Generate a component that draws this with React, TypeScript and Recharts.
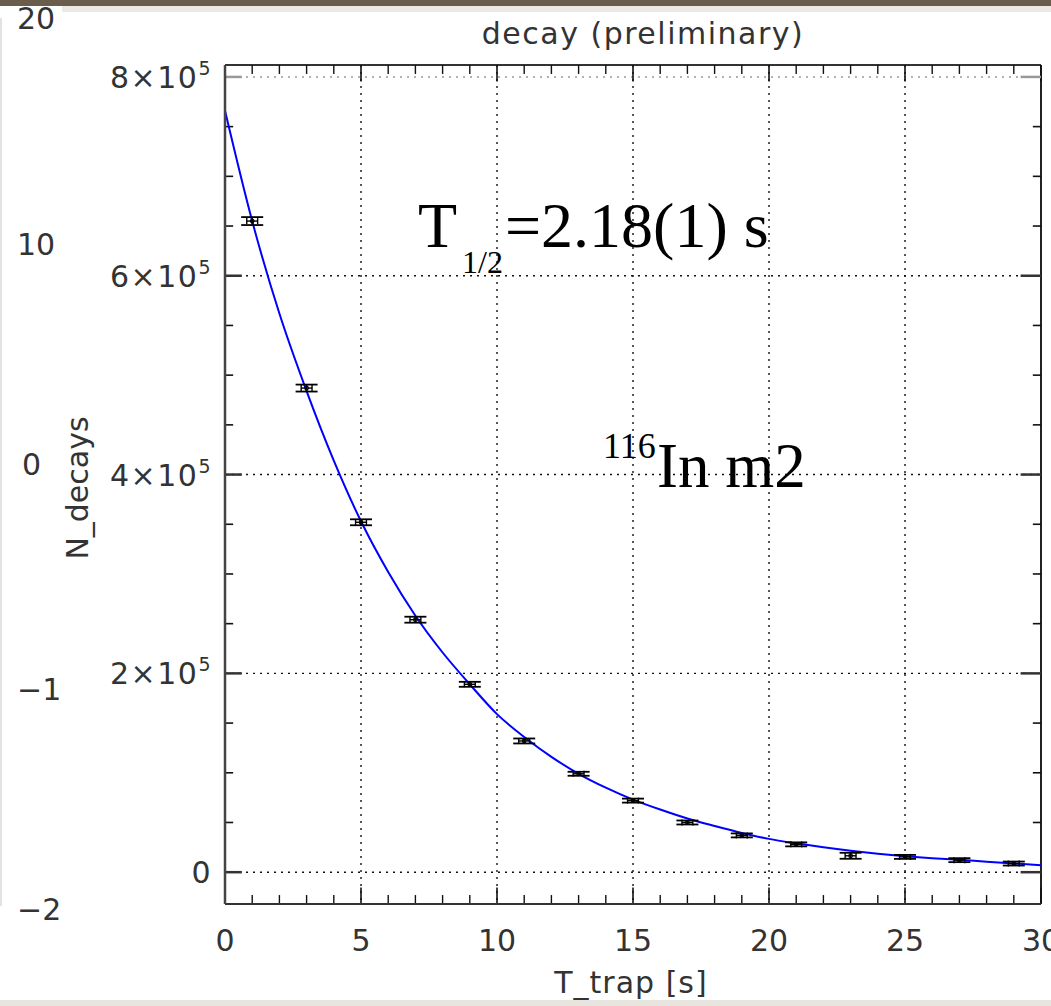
import React from "react";
import {
  ComposedChart,
  Line,
  Scatter,
  XAxis,
  YAxis,
  CartesianGrid,
  ReferenceLine,
  ErrorBar,
} from "recharts";

// fitted curve
const curveT = [0, 1, 2, 3, 4, 5, 6, 7, 8, 9, 10, 11, 12, 13, 14, 15, 16, 17, 18, 19, 20, 21, 22, 23, 24, 25, 26, 27, 28, 29, 30];
const curveN = [
  766000, 655000, 562000, 484000, 414000, 353000, 302000, 258000, 221000, 189000,
  159000, 136000, 116000, 99000, 85000, 73000, 63000, 54000, 46500, 39500,
  33500, 29000, 25000, 21500, 18500, 16000, 14000, 12500, 10500, 8800, 7000,
];

// measured points
const pointT = [1, 3, 5, 7, 9, 11, 13, 15, 17, 19, 21, 23, 25, 27, 29];
const pointN = [655000, 487000, 352000, 254000, 189000, 132000, 99000, 72000, 50000, 37000, 28000, 16500, 15400, 12100, 8700];
const pointErrN = [4000, 3500, 3000, 3000, 2500, 2500, 2000, 2000, 2000, 2000, 2000, 3000, 2000, 2000, 2000];
const pointErrT = [0.2, 0.2, 0.2, 0.2, 0.2, 0.2, 0.2, 0.2, 0.2, 0.2, 0.2, 0.2, 0.2, 0.2, 0.2];

const xMajorTicks = [0, 5, 10, 15, 20, 25, 30];
const xMinorTicks = [1, 2, 3, 4, 6, 7, 8, 9, 11, 12, 13, 14, 16, 17, 18, 19, 21, 22, 23, 24, 26, 27, 28, 29];
const yMajorTicks = [0, 200000, 400000, 600000, 800000];
const yMinorTicks = [50000, 100000, 150000, 250000, 300000, 350000, 450000, 500000, 550000, 650000, 700000, 750000];
const yTickMantissa = ["0", "2", "4", "6", "8"];
const yTickExponent = ["", "5", "5", "5", "5"];

const strayLabels = ["20", "10", "0", "\u22121", "\u22122"];

const X_MIN = 0;
const X_MAX = 30;
const Y_MIN = -32000;
const Y_MAX = 812000;

const curveData = curveT.map((t, i) => ({ t, n: curveN[i] }));
const pointData = pointT.map((t, i) => ({ t, n: pointN[i], dn: pointErrN[i], dt: pointErrT[i] }));

const SANS = "'DejaVu Sans', sans-serif";
const SERIF = "'Liberation Serif', 'Times New Roman', serif";
const INK = "#333";

const XTick = (props: any) => {
  const { x, y, payload } = props;
  return (
    <text x={x} y={y + 47} textAnchor="middle" fontFamily={SANS} fontSize={30} fill={INK}>
      {payload.value}
    </text>
  );
};

const YTick = (props: any) => {
  const { x, y, payload } = props;
  const i = yMajorTicks.indexOf(payload.value);
  const exp = yTickExponent[i];
  return (
    <text x={x} y={y + 11} textAnchor="end" fontFamily={SANS} fontSize={30} letterSpacing={1.5} fill={INK}>
      {yTickMantissa[i]}
      {exp ? "\u00d710" : ""}
      {exp ? (
        <tspan dy={-13} fontSize={19}>
          {exp}
        </tspan>
      ) : null}
    </text>
  );
};

const tickStroke = "#111";

export default function App() {
  return (
    <div style={{ position: "absolute", left: 0, top: 0, width: 1051, height: 1006, background: "#fff" }}>
      <ComposedChart
        width={1051}
        height={1006}
        margin={{ top: 65, right: 10, bottom: 62, left: 125 }}
      >
        <CartesianGrid
          stroke="#111"
          strokeWidth={1.4}
          strokeDasharray="2 5"
          horizontalValues={[0, 200000, 400000, 600000]}
          verticalValues={[5, 10, 15, 20, 25]}
        />
        <XAxis
          type="number"
          dataKey="t"
          domain={[X_MIN, X_MAX]}
          allowDataOverflow
          ticks={xMajorTicks}
          interval={0}
          height={40}
          tickSize={0}
          tickMargin={0}
          tickLine={false}
          axisLine={{ stroke: "#333", strokeWidth: 2 }}
          tick={<XTick />}
        />
        <YAxis
          type="number"
          domain={[Y_MIN, Y_MAX]}
          allowDataOverflow
          ticks={yMajorTicks}
          interval={0}
          width={100}
          tickSize={0}
          tickMargin={13}
          tickLine={false}
          axisLine={{ stroke: "#444", strokeWidth: 2.5 }}
          tick={<YTick />}
        />
        <ReferenceLine y={800000} stroke="#999" strokeWidth={1.4} strokeDasharray="2 5" />
        <ReferenceLine y={Y_MAX} stroke="#333" strokeWidth={2} />
        <ReferenceLine x={X_MAX} stroke="#222" strokeWidth={2} />

        {xMajorTicks.map((t) => (
          <ReferenceLine key={`bM${t}`} segment={[{ x: t, y: Y_MIN }, { x: t, y: Y_MIN + 16500 }]} stroke={tickStroke} strokeWidth={1.6} />
        ))}
        {xMinorTicks.map((t) => (
          <ReferenceLine key={`bm${t}`} segment={[{ x: t, y: Y_MIN }, { x: t, y: Y_MIN + 9000 }]} stroke={tickStroke} strokeWidth={1.4} />
        ))}
        {xMajorTicks.map((t) => (
          <ReferenceLine key={`tM${t}`} segment={[{ x: t, y: Y_MAX }, { x: t, y: Y_MAX - 16500 }]} stroke={tickStroke} strokeWidth={1.6} />
        ))}
        {xMinorTicks.map((t) => (
          <ReferenceLine key={`tm${t}`} segment={[{ x: t, y: Y_MAX }, { x: t, y: Y_MAX - 9000 }]} stroke={tickStroke} strokeWidth={1.4} />
        ))}
        {yMajorTicks.map((v) => (
          <ReferenceLine key={`lM${v}`} segment={[{ x: X_MIN, y: v }, { x: X_MIN + 0.62, y: v }]} stroke={v === 800000 ? "#999" : "#333"} strokeWidth={2.5} />
        ))}
        {yMinorTicks.map((v) => (
          <ReferenceLine key={`lm${v}`} segment={[{ x: X_MIN, y: v }, { x: X_MIN + 0.3, y: v }]} stroke={tickStroke} strokeWidth={1.6} />
        ))}
        {yMajorTicks.map((v) => (
          <ReferenceLine key={`rM${v}`} segment={[{ x: X_MAX, y: v }, { x: X_MAX - 0.75, y: v }]} stroke={v === 800000 ? "#999" : "#333"} strokeWidth={2.5} />
        ))}
        {yMinorTicks.map((v) => (
          <ReferenceLine key={`rm${v}`} segment={[{ x: X_MAX, y: v }, { x: X_MAX - 0.3, y: v }]} stroke={tickStroke} strokeWidth={1.6} />
        ))}

        <Line
          data={curveData}
          dataKey="n"
          type="monotone"
          stroke="#0000ff"
          strokeWidth={2}
          dot={false}
          activeDot={false}
          isAnimationActive={false}
        />
        <Scatter
          data={pointData}
          dataKey="n"
          fill="#000"
          isAnimationActive={false}
          shape={(p: any) => (
            <circle cx={p.cx} cy={p.cy} r={1.8} fill="none" stroke="#000" strokeWidth={1.2} />
          )}
        >
          <ErrorBar dataKey="dn" direction="y" width={11} stroke="#000" strokeWidth={1.8} />
          <ErrorBar dataKey="dt" direction="x" width={3} stroke="#000" strokeWidth={1.4} />
        </Scatter>
      </ComposedChart>

      <svg
        width={1051}
        height={1006}
        style={{ position: "absolute", left: 0, top: 0, pointerEvents: "none" }}
      >
        <rect x={0} y={0} width={1051} height={6} fill="#6b5d4b" />
        <rect x={62} y={6} width={989} height={6} fill="#ece9e3" />
        <rect x={0} y={1000} width={1051} height={6} fill="#e8e5df" />
        <line x1={1} y1={18} x2={1} y2={906} stroke="#e2e2e2" strokeWidth={2} />

        <text x={17} y={29} fontFamily={SANS} fontSize={30} fill={INK}>{strayLabels[0]}</text>
        <text x={17} y={255} fontFamily={SANS} fontSize={30} fill={INK}>{strayLabels[1]}</text>
        <text x={22} y={475} fontFamily={SANS} fontSize={30} fill={INK}>{strayLabels[2]}</text>
        <text x={17} y={700} fontFamily={SANS} fontSize={30} fill={INK}>{strayLabels[3]}</text>
        <text x={17} y={920} fontFamily={SANS} fontSize={30} fill={INK}>{strayLabels[4]}</text>

        <text x={643} y={44} textAnchor="middle" fontFamily={SANS} fontSize={30} letterSpacing={1.5} fill={INK}>
          decay (preliminary)
        </text>
        <text x={631} y={993} textAnchor="middle" fontFamily={SANS} fontSize={30} letterSpacing={1} fill={INK}>
          T_trap [s]
        </text>
        <text
          x={88}
          y={488}
          textAnchor="middle"
          fontFamily={SANS}
          fontSize={30}
          fill={INK}
          transform="rotate(-90, 88, 488)"
        >
          N_decays
        </text>

        <text x={418} y={247} fontFamily={SERIF} fontSize={64} fill="#000">T</text>
        <text x={462} y={273} fontFamily={SERIF} fontSize={32} fill="#000">1/2</text>
        <text x={505} y={247} fontFamily={SERIF} fontSize={64} fill="#000">=2.18(1) s</text>

        <text x={603} y={458} fontFamily={SERIF} fontSize={36} fill="#000">116</text>
        <text x={657} y={487} fontFamily={SERIF} fontSize={63} fill="#000">In m2</text>
      </svg>
    </div>
  );
}
